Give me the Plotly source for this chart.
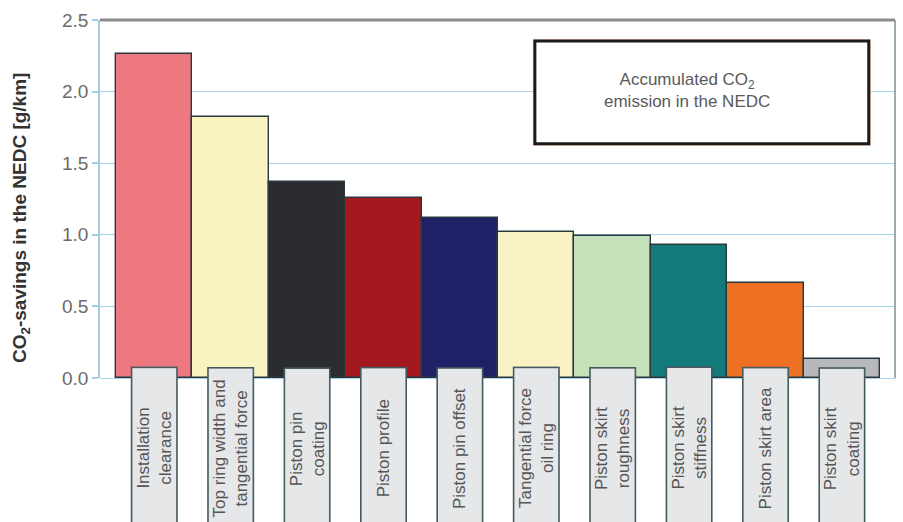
import plotly.graph_objects as go

categories = ["Installation clearance", "Top ring width and tangential force",
              "Piston pin coating", "Piston profile", "Piston pin offset",
              "Tangential force oil ring", "Piston skirt roughness",
              "Piston skirt stiffness", "Piston skirt area", "Piston skirt coating"]
tick_labels = ["Installation<br>clearance", "Top ring width and<br>tangential force",
               "Piston pin<br>coating", "Piston profile", "Piston pin offset",
               "Tangential force<br>oil ring", "Piston skirt<br>roughness",
               "Piston skirt<br>stiffness", "Piston skirt area", "Piston skirt<br>coating"]
values = [2.26, 1.82, 1.37, 1.26, 1.12, 1.02, 0.99, 0.93, 0.66, 0.13]
colors = ["#EE7880", "#F9F3C2", "#2B2C30", "#A3191F", "#1F2166",
          "#F8F2C5", "#C6E2BB", "#127A7A", "#EE7022", "#B6B8BB"]
y_ticks = [0.0, 0.5, 1.0, 1.5, 2.0, 2.5]

fig = go.Figure()
fig.add_trace(go.Bar(
    x=categories, y=values,
    marker=dict(color=colors, line=dict(color="#2A383E", width=1.4)),
    width=1.0, hoverinfo="skip", showlegend=False,
))

grid_blue = "#A9D3EA"
annotations = []
for cat, lab in zip(categories, tick_labels):
    annotations.append(dict(
        x=cat, xref="x", y=0.031, yref="paper", xanchor="center", yanchor="top",
        text=lab, textangle=-90, showarrow=False, align="center",
        width=160, height=44, bgcolor="#E5E7E9", bordercolor="#46595F",
        borderwidth=1.6, borderpad=0,
        font=dict(family="Liberation Sans, Arial, sans-serif", size=17, color="#555555"),
    ))

annotations.append(dict(
    x=-0.0994, xref="paper", y=0.447, yref="paper", xanchor="center", yanchor="middle",
    text="<b>CO<sub>2</sub>-savings in the NEDC [g/km]</b>", textangle=-90, showarrow=False,
    font=dict(family="Liberation Sans, Arial, sans-serif", size=19, color="#333333"),
))
annotations.append(dict(
    x=0.738, xref="paper", y=0.802, yref="paper", xanchor="center", yanchor="middle",
    text="Accumulated CO<sub>2</sub><br>emission in the NEDC", showarrow=False, align="center",
    font=dict(family="Liberation Sans, Arial, sans-serif", size=17, color="#5A5A5A"),
))

shapes = [
    dict(type="rect", xref="paper", yref="paper", x0=0.545, x1=0.969, y0=0.650, y1=0.945,
         line=dict(color="#F5C8B4", width=1), fillcolor="rgba(0,0,0,0)", layer="above"),
    dict(type="rect", xref="paper", yref="paper", x0=0.547, x1=0.967, y0=0.654, y1=0.941,
         line=dict(color="#1A1A1A", width=3), fillcolor="white", layer="above"),
    dict(type="line", xref="paper", yref="paper", x0=0, x1=1, y0=1, y1=1,
         line=dict(color="#8C8C8C", width=3), layer="above"),
    dict(type="line", xref="paper", yref="paper", x0=1, x1=1, y0=0, y1=1,
         line=dict(color="#7C909A", width=1.5), layer="above"),
]

fig.update_layout(
    width=903, height=522,
    margin=dict(l=100, r=8, t=20, b=144),
    paper_bgcolor="white", plot_bgcolor="white",
    bargap=0,
    xaxis=dict(range=[-0.709, 9.696], showticklabels=False, showgrid=False,
               zeroline=False, showline=False, ticks=""),
    yaxis=dict(range=[0, 2.5], tickvals=y_ticks, tickformat=".1f",
               showgrid=True, gridcolor=grid_blue, gridwidth=1.2,
               zeroline=True, zerolinecolor=grid_blue, zerolinewidth=1.2,
               showline=True, linecolor="#A3CDE3", linewidth=1.5,
               ticks="outside", ticklen=6, tickcolor="#A3CDE3", tickwidth=1.5,
               tickfont=dict(family="Liberation Sans, Arial, sans-serif", size=19, color="#6B6B6B")),
    annotations=annotations,
    shapes=shapes,
)

fig.write_html("out.html")
